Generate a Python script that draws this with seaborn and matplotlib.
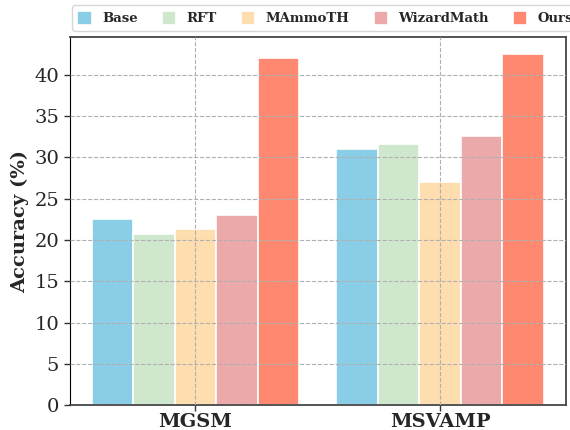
import pandas as pd
import seaborn as sns
import matplotlib.pyplot as plt

datasets = ['MGSM', 'MSVAMP']
methods = ['Base', 'RFT', 'MAmmoTH', 'WizardMath', 'Ours']
mgsm_acc = [22.6, 20.7, 21.3, 23.0, 42.0]
msvamp_acc = [31.0, 31.6, 27.0, 32.6, 42.5]
colors = ['#89CEE6', '#CFE8CD', '#FEDDAE', '#ECA9AA', '#FE8870']

df = pd.DataFrame({
    'Dataset': ['MGSM'] * len(methods) + ['MSVAMP'] * len(methods),
    'Method': methods * 2,
    'Accuracy': mgsm_acc + msvamp_acc,
})

sns.set_style('white')
plt.rcParams['font.family'] = ['DejaVu Serif']

fig, ax = plt.subplots(figsize=(5.7, 4.3), dpi=100)
sns.barplot(data=df, x='Dataset', y='Accuracy', hue='Method', hue_order=methods,
            order=datasets, palette=colors, width=0.85, saturation=1,
            edgecolor='white', linewidth=1.2, ax=ax)

ax.set_ylim(0, 44.6)
ax.set_xlim(-0.515, 1.515)
ax.set_yticks(range(0, 45, 5))
ax.set_xlabel('')
ax.set_ylabel('Accuracy (%)', fontsize=14, fontweight='bold')
ax.tick_params(axis='y', labelsize=14, length=4, width=1, left=True, color='#333333')
ax.tick_params(axis='x', length=4, width=1, bottom=True, color='#333333', pad=2)
for lbl in ax.get_xticklabels():
    lbl.set_fontsize(14)
    lbl.set_fontweight('bold')

# grid drawn over the bars, like the original
ax.set_axisbelow(False)
ax.grid(True, linestyle='--', color='#b0b0b0', linewidth=0.8)
for side in ['top', 'right', 'bottom']:
    ax.spines[side].set_color('#444444')
    ax.spines[side].set_linewidth(1.3)
ax.spines['left'].set_color('black')

ax.legend(loc='lower left', bbox_to_anchor=(0.0, 1.01), ncol=5, frameon=True,
          prop={'weight': 'bold', 'size': 9.5}, handlelength=1.1, handleheight=1.3,
          handletextpad=0.75, columnspacing=1.85, borderaxespad=0.2,
          edgecolor='#cccccc', fancybox=True)

fig.subplots_adjust(left=0.122, right=0.993, top=0.914, bottom=0.058)
fig.savefig('out.png', dpi=100)
